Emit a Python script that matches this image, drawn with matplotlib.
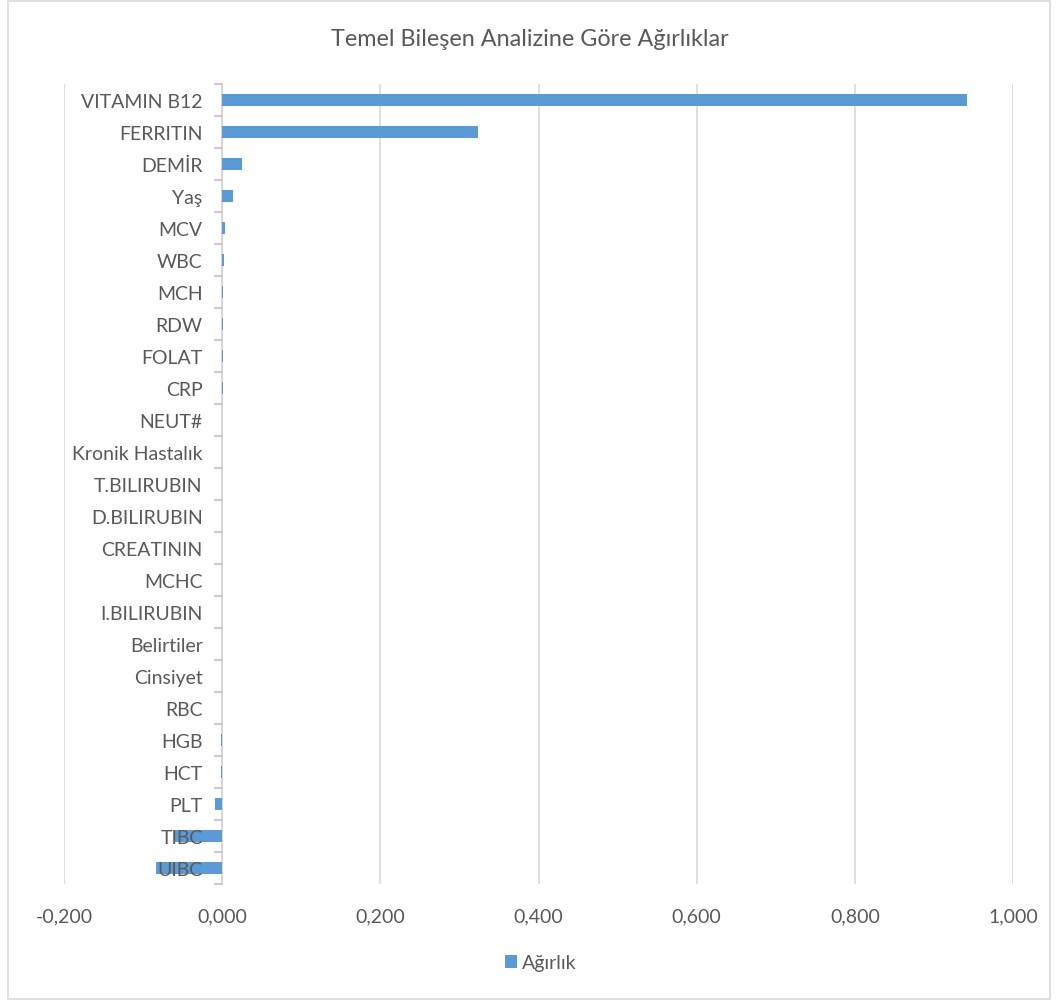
import matplotlib.pyplot as plt
from matplotlib.patches import Rectangle
from matplotlib.ticker import FuncFormatter, FixedLocator
import numpy as np

# principal component loadings per variable (top to bottom)
variables = ["VITAMIN B12", "FERRITIN", "DEMİR", "Yaş", "MCV", "WBC", "MCH", "RDW",
             "FOLAT", "CRP", "NEUT#", "Kronik Hastalık", "T.BILIRUBIN", "D.BILIRUBIN",
             "CREATININ", "MCHC", "I.BILIRUBIN", "Belirtiler", "Cinsiyet", "RBC",
             "HGB", "HCT", "PLT", "TIBC", "UIBC"]
weights = [0.942, 0.323, 0.025, 0.014, 0.004, 0.002, 0.001, 0.0008,
           0.0006, 0.0005, 0.0003, 0.0002, 0.0001, 0.0001,
           0.00005, 0.0, 0.0, -0.0001, -0.0002, -0.0006,
           -0.001, -0.0015, -0.009, -0.0595, -0.0835]
series_name = "Ağırlık"
title = "Temel Bileşen Analizine Göre Ağırlıklar"

plt.rcParams['font.family'] = ['Lato', 'DejaVu Sans']
text_color = "#595959"
bar_color = "#5B9BD5"
grid_color = "#D9D9D9"

fig = plt.figure(figsize=(10.59, 10.03), dpi=100)
W, H = 1059, 1003
ax = fig.add_axes([64 / W, 1 - 885 / H, (1013 - 64) / W, (885 - 85) / H])

y = np.arange(len(variables))
ax.barh(y, weights, height=0.4, color=bar_color, zorder=2, label=series_name)
ax.set_ylim(len(variables) - 0.5, -0.5)
ax.set_xlim(-0.2, 1.0)
ax.set_xticks(np.arange(-0.2, 1.01, 0.2))
ax.xaxis.set_major_formatter(FuncFormatter(lambda v, _: f"{v:.3f}".replace(".", ",")))
ax.grid(axis="x", color=grid_color, linewidth=1.2, zorder=0)
ax.tick_params(axis="x", length=0, pad=17, labelsize=14, labelcolor=text_color)

# category axis sits on zero, ticks between categories
for s in ["top", "right", "bottom"]:
    ax.spines[s].set_visible(False)
ax.spines["left"].set_position(("data", 0))
ax.spines["left"].set_color("#BFBFBF")
ax.spines["left"].set_linewidth(1.2)
ax.spines["left"].set_zorder(1)
ax.set_yticks(y)
ax.set_yticklabels(variables)
ax.yaxis.set_minor_locator(FixedLocator(np.arange(-0.5, len(variables), 1.0)))
ax.tick_params(axis="y", which="major", length=0, pad=14, labelsize=14, labelcolor=text_color)
ax.tick_params(axis="y", which="minor", length=6, width=1.2, color="#BFBFBF")
ax.yaxis.set_zorder(3)

fig.text(0.5, 1 - 39 / H, title, ha="center", va="center", fontsize=16.8, color=text_color)

leg = fig.legend(loc="center", bbox_to_anchor=(541 / W, 1 - 964 / H), frameon=False,
                 fontsize=14, handlelength=0.6, handleheight=0.6, handletextpad=0.3)
for t in leg.get_texts():
    t.set_color(text_color)

fig.patches.append(Rectangle((8 / W, 1 - 1000 / H), (1050 - 8) / W, (1000 - 2) / H,
                             transform=fig.transFigure, fill=False,
                             edgecolor=grid_color, linewidth=1.2))

fig.savefig("out.png", dpi=100, facecolor="white")
